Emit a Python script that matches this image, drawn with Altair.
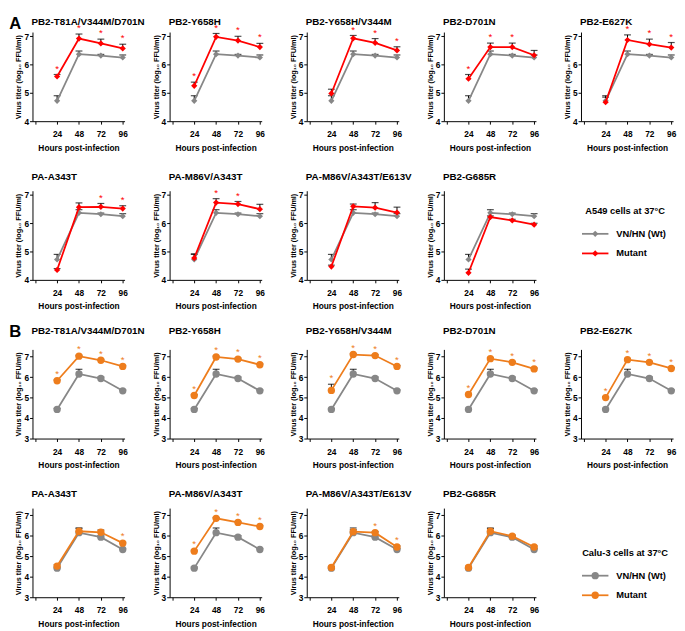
import altair as alt
import pandas as pd

FONT = "Liberation Sans"
hours = [24, 48, 72, 96]

# ---------- A: A549 cells ----------
A_titles = ["PB2-T81A/V344M/D701N", "PB2-Y658H", "PB2-Y658H/V344M", "PB2-D701N", "PB2-E627K",
            "PA-A343T", "PA-M86V/A343T", "PA-M86V/A343T/E613V", "PB2-G685R"]
A_wt = [4.72, 6.37, 6.32, 6.25]
A_wt_err = [4.90, 6.48, 6.36, 6.34]
A_mut = [[5.58, 6.92, 6.75, 6.57], [5.25, 6.98, 6.85, 6.62], [4.98, 6.93, 6.77, 6.50],
         [5.50, 6.62, 6.62, 6.33], [4.67, 6.87, 6.72, 6.60], [4.35, 6.57, 6.58, 6.52],
         [4.77, 6.73, 6.68, 6.50], [4.47, 6.60, 6.55, 6.38], [4.25, 6.22, 6.10, 5.95]]
A_mut_err = [[5.65, 7.08, 6.90, 6.72], [5.38, 7.10, 7.00, 6.75], [5.13, 7.03, 6.92, 6.63],
             [5.65, 6.76, 6.76, 6.50], [4.85, 7.05, 6.90, 6.78], [4.40, 6.72, 6.70, 6.62],
             [4.92, 6.87, 6.77, 6.67], [4.52, 6.68, 6.73, 6.57], [4.38, 6.26, 6.14, 6.00]]
A_stars = [[1, 1, 1, 1], [1, 1, 1, 1], [0, 1, 1, 1], [1, 1, 1, 0], [0, 1, 1, 1],
           [0, 0, 1, 1], [0, 1, 1, 0], [0, 0, 0, 0], [0, 0, 0, 0]]

# ---------- B: Calu-3 cells ----------
B_titles = A_titles
B_wt = [4.42, 6.15, 5.93, 5.33]
B_wt_err = [4.47, 6.38, 6.00, 5.37]
B_mut = [[5.82, 7.02, 6.82, 6.52], [5.10, 6.98, 6.88, 6.60], [5.35, 7.10, 7.05, 6.52],
         [5.15, 6.90, 6.72, 6.40], [5.00, 6.85, 6.72, 6.42], [4.52, 6.22, 6.17, 5.64],
         [5.25, 6.85, 6.65, 6.45], [4.45, 6.20, 6.15, 5.45], [4.45, 6.22, 5.98, 5.45]]
B_mut_err = [[5.86, 7.06, 6.86, 6.56], [5.14, 7.02, 6.92, 6.64], [5.65, 7.14, 7.09, 6.56],
             [5.19, 6.94, 6.76, 6.44], [5.04, 6.89, 6.76, 6.46], [4.58, 6.36, 6.28, 5.68],
             [5.29, 6.89, 6.69, 6.49], [4.50, 6.30, 6.20, 5.50], [4.50, 6.35, 6.03, 5.50]]
B_stars = [[1, 1, 1, 1], [1, 1, 1, 1], [1, 1, 1, 1], [1, 1, 1, 1], [1, 1, 1, 1],
           [0, 0, 0, 1], [1, 1, 1, 1], [0, 0, 1, 1], [0, 0, 0, 0]]

series_names = ["VN/HN (Wt)", "Mutant"]
GREY = "#878787"
RED = "#FF0000"
ORANGE = "#EE7D1C"

W, H = 94, 91
YTITLE = "Virus titer (log\u2081\u2080 FFU/ml)"


def panel(title, wt, wt_err, mut, mut_err, stars, ydom, yticks, mcolor, shape, msize,
          title_y, letter=None, letter_y=0):
    rows = []
    for i, h in enumerate(hours):
        rows.append(dict(hour=h, series="wt", titer=wt[i], err=wt_err[i], star=0))
        rows.append(dict(hour=h, series="mut", titer=mut[i], err=mut_err[i], star=stars[i]))
    df = pd.DataFrame(rows)
    base = alt.Chart(df)
    xax = alt.Axis(values=[0, 24, 48, 72, 96],
                   labelExpr="datum.value == 0 ? '' : datum.label",
                   title="Hours post-infection")
    yax = alt.Axis(values=yticks, title=YTITLE)
    xs = alt.Scale(domain=[-3, 98], nice=False, zero=False)
    ys = alt.Scale(domain=ydom, nice=False, zero=False)
    X = alt.X("hour:Q", scale=xs, axis=xax)

    rule = base.mark_rule(color="black", strokeWidth=1).encode(
        x=X, y=alt.Y("titer:Q", scale=ys, axis=yax), y2="err:Q")
    cap = base.mark_tick(color="black", orient="horizontal", size=7, thickness=1.2).encode(
        x=X, y=alt.Y("err:Q", scale=ys, axis=yax))
    layers = [rule, cap]
    for s, col in [("wt", GREY), ("mut", mcolor)]:
        sub = base.transform_filter(alt.datum.series == s)
        layers.append(sub.mark_line(color=col, strokeWidth=1.8).encode(
            x=X, y=alt.Y("titer:Q", scale=ys, axis=yax)))
        layers.append(sub.mark_point(color=col, shape=shape, filled=True, size=msize, opacity=1).encode(
            x=X, y=alt.Y("titer:Q", scale=ys, axis=yax)))
    layers.append(base.transform_filter(alt.datum.star == 1).mark_text(
        text="*", color=mcolor, fontSize=10, font=FONT, dy=-3, baseline="alphabetic").encode(
        x=X, y=alt.Y("err:Q", scale=ys, axis=yax)))
    tdf = pd.DataFrame({"t": [title]})
    layers.append(alt.Chart(tdf).mark_text(
        align="left", baseline="alphabetic", fontSize=10, fontWeight="bold",
        font=FONT, color="black").encode(
        text="t:N", x=alt.value(-1), y=alt.value(title_y)))
    if letter:
        ldf = pd.DataFrame({"t": [letter]})
        layers.append(alt.Chart(ldf).mark_text(
            align="left", baseline="alphabetic", fontSize=17,
            fontWeight="bold", font=FONT, color="black").encode(
            text="t:N", x=alt.value(-23.7), y=alt.value(letter_y)))
    return alt.layer(*layers).properties(width=W, height=H)


def legend_panel(heading, mcolor, shape, msize, y0):
    ldf = pd.DataFrame({"name": series_names, "k": [0, 1]})
    base = alt.Chart(ldf)
    head = alt.Chart(pd.DataFrame({"t": [heading]})).mark_text(
        align="center", baseline="middle", fontSize=9.5, fontWeight="bold",
        font=FONT, color="black").encode(text="t:N", x=alt.value(45), y=alt.value(y0))
    layers = [head]
    for i, col in enumerate([GREY, mcolor]):
        yy = y0 + 23 + 20 * i
        sub = base.transform_filter(alt.datum.k == i)
        layers.append(sub.mark_rule(color=col, strokeWidth=1.8).encode(
            x=alt.value(1), x2=alt.value(28), y=alt.value(yy)))
        layers.append(sub.mark_point(color=col, shape=shape, filled=True, size=msize, opacity=1).encode(
            x=alt.value(14.5), y=alt.value(yy)))
        layers.append(sub.mark_text(align="left", baseline="middle", fontSize=9.5, fontWeight="bold",
                                    font=FONT, color="black").encode(
            x=alt.value(36), y=alt.value(yy), text="name:N"))
    return alt.layer(*layers).properties(width=W, height=H)


charts = []
title_y_A = [-7, -11]
title_y_B = [-16, -11]
for r in range(2):
    for c in range(5):
        if r == 1 and c == 4:
            charts.append(legend_panel("A549 cells at 37\u00b0C", RED, "diamond", 40, 21))
            continue
        i = r * 5 + c
        charts.append(panel(A_titles[i], A_wt, A_wt_err, A_mut[i], A_mut_err[i], A_stars[i],
                            [4, 7.15], [4, 5, 6, 7], RED, "diamond", 40, title_y_A[r],
                            letter="A" if i == 0 else None, letter_y=-3))
for r in range(2):
    for c in range(5):
        if r == 1 and c == 4:
            charts.append(legend_panel("Calu-3 cells at 37\u00b0C", ORANGE, "circle", 56, 46))
            continue
        i = r * 5 + c
        charts.append(panel(B_titles[i], B_wt, B_wt_err, B_mut[i], B_mut_err[i], B_stars[i],
                            [3, 7.35], [3, 4, 5, 6, 7], ORANGE, "circle", 56, title_y_B[r],
                            letter="B" if i == 0 else None, letter_y=-13))

chart = alt.concat(*charts, columns=5, spacing={"row": 71, "column": 46}, bounds="flush").properties(
    padding=0, background="white"
).configure_view(stroke="transparent").configure_axis(
    domainColor="black", domainWidth=1, tickColor="black", tickSize=3, tickWidth=1,
    labelFont=FONT, labelFontSize=8.5, labelFontWeight="bold", labelColor="black",
    titleFont=FONT, titleFontSize=8.5, titleFontWeight="bold", titleColor="black",
    grid=False, labelFlush=False, labelOverlap=False
).configure_axisX(labelPadding=6, titlePadding=5).configure_axisY(
    labelPadding=1, titlePadding=1, titleFontSize=7.4)

chart.save("out.html", embed_options={"renderer": "svg", "actions": False})
